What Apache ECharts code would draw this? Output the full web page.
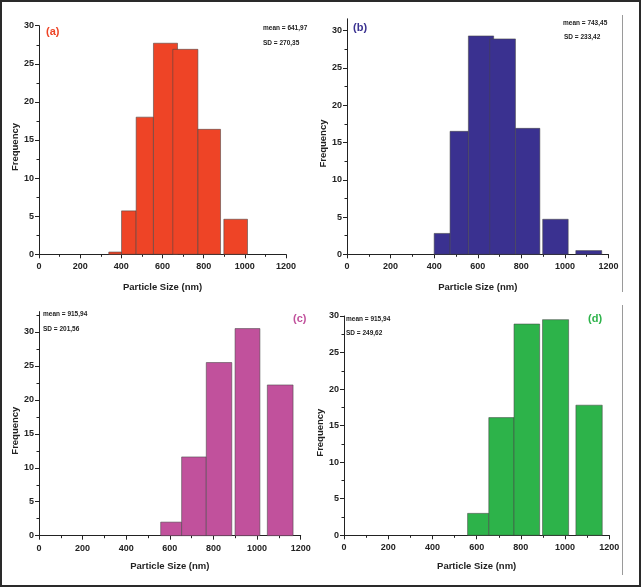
<!DOCTYPE html>
<html>
<head>
<meta charset="utf-8">
<script src="https://cdn.jsdelivr.net/npm/echarts@6/dist/echarts.min.js"></script>
<style>
  html, body { margin: 0; padding: 0; background: #fff; }
  #chart { width: 641px; height: 587px; }
</style>
</head>
<body>
<div id="chart"></div>
<script>
// bin edges (nm) and frequencies
const binStartA = [339, 401, 472, 556, 650, 772, 898];
const binEndA   = [401, 472, 556, 673, 772, 882, 1013];
const freqA     = [0.3, 5.7, 18.0, 27.7, 26.9, 16.4, 4.6];

const binStartB = [400, 473, 557, 655, 773, 898, 1050];
const binEndB   = [473, 557, 673, 773, 885, 1015, 1169];
const freqB     = [2.8, 16.5, 29.3, 28.9, 16.9, 4.7, 0.5];

const binStartC = [558, 654, 767, 899, 1047];
const binEndC   = [654, 767, 884, 1013, 1165];
const freqC     = [2.0, 11.6, 25.5, 30.5, 22.2];

const binStartD = [559, 655, 769, 898, 1049];
const binEndD   = [655, 769, 885, 1016, 1168];
const freqD     = [3.0, 16.1, 28.9, 29.5, 17.8];

const xTicks = [0, 200, 400, 600, 800, 1000, 1200];
const yTicks = [0, 5, 10, 15, 20, 25, 30];

const panelTags  = ['(a)', '(b)', '(c)', '(d)'];
const meanTexts  = ['mean = 641,97', 'mean = 743,45', 'mean = 915,94', 'mean = 915,94'];
const sdTexts    = ['SD = 270,35', 'SD = 233,42', 'SD = 201,56', 'SD = 249,62'];
const colors     = ['#EE4426', '#3A3190', '#C1519C', '#2DB34A'];

const FONT = "'Liberation Sans', Arial, sans-serif";

const panels = [
  { starts: binStartA, ends: binEndA, freq: freqA, max: 30,   grid: { left: 39,  top: 25.7, width: 247,   height: 228.6 } },
  { starts: binStartB, ends: binEndB, freq: freqB, max: 31.6, grid: { left: 347, top: 18.8, width: 261.5, height: 235.5 } },
  { starts: binStartC, ends: binEndC, freq: freqC, max: 33,   grid: { left: 39,  top: 311.6, width: 261.7, height: 224.1 } },
  { starts: binStartD, ends: binEndD, freq: freqD, max: 30,   grid: { left: 344, top: 316,  width: 265.3, height: 219.3 } }
];

let grid = [], xAxis = [], yAxis = [], series = [];

panels.forEach((p, i) => {
  grid.push(p.grid);
  xAxis.push({
    gridIndex: i,
    type: 'value',
    min: 0,
    max: 1200,
    interval: 200,
    name: 'Particle Size (nm)',
    nameLocation: 'middle',
    nameGap: i < 2 ? 28 : 26,
    nameTextStyle: { fontFamily: FONT, fontWeight: 'bold', fontSize: 9.5, color: '#222' },
    splitLine: { show: false },
    axisLine: { show: true, lineStyle: { color: '#222', width: 1 } },
    axisTick: { show: true, length: 4, customValues: xTicks, lineStyle: { color: '#222', width: 1 } },
    minorTick: { show: true, splitNumber: 2, length: 2.5, lineStyle: { color: '#222', width: 1 } },
    axisLabel: { customValues: xTicks, formatter: v => String(v), fontFamily: FONT, fontWeight: 'bold', fontSize: 9, color: '#222', margin: 8 }
  });
  yAxis.push({
    gridIndex: i,
    type: 'value',
    min: 0,
    max: p.max,
    interval: 5,
    name: 'Frequency',
    nameLocation: 'middle',
    nameGap: 19,
    nameTextStyle: { fontFamily: FONT, fontWeight: 'bold', fontSize: 9.5, color: '#222', padding: [0, 14, 0, 0] },
    splitLine: { show: false },
    axisLine: { show: true, lineStyle: { color: '#222', width: 1 } },
    axisTick: { show: true, length: 4, customValues: yTicks, lineStyle: { color: '#222', width: 1 } },
    minorTick: { show: true, splitNumber: 2, length: 2.5, lineStyle: { color: '#222', width: 1 } },
    axisLabel: { customValues: yTicks, formatter: v => String(v), fontFamily: FONT, fontWeight: 'bold', fontSize: 9, color: '#222', margin: 5 }
  });
  series.push({
    type: 'custom',
    xAxisIndex: i,
    yAxisIndex: i,
    data: p.freq.map((f, k) => [p.starts[k], p.ends[k], f]),
    encode: { x: [0, 1], y: 2 },
    renderItem: function (params, api) {
      const topLeft = api.coord([api.value(0), api.value(2)]);
      const bottomRight = api.coord([api.value(1), 0]);
      return {
        type: 'rect',
        shape: {
          x: topLeft[0],
          y: topLeft[1],
          width: bottomRight[0] - topLeft[0],
          height: bottomRight[1] - topLeft[1]
        },
        style: { fill: colors[i], stroke: 'rgba(70,70,70,0.55)', lineWidth: 1 }
      };
    }
  });
});

// annotation positions: tag, mean, sd
const tagPos  = [[46, 32], [353, 28], [293, 319], [588, 319]];
const meanPos = [[263, 29], [563, 24], [43, 315], [346, 320]];
const sdPos   = [[263, 44], [564, 38], [43, 330], [346, 334]];

let graphic = [
  { type: 'rect', shape: { x: 1, y: 1, width: 639, height: 585 }, style: { fill: 'none', stroke: '#2a2a2a', lineWidth: 2 }, z: 10 },
  { type: 'line', shape: { x1: 622.5, y1: 15, x2: 622.5, y2: 292 }, style: { stroke: '#9a9a9a', lineWidth: 1 } },
  { type: 'line', shape: { x1: 622.5, y1: 305, x2: 622.5, y2: 575 }, style: { stroke: '#9a9a9a', lineWidth: 1 } }
];

panelTags.forEach((t, i) => {
  graphic.push({
    type: 'text', left: tagPos[i][0], top: tagPos[i][1] - 6,
    style: { text: t, fill: colors[i], font: "bold 11px 'Liberation Sans', Arial, sans-serif" }
  });
  graphic.push({
    type: 'text', left: meanPos[i][0], top: meanPos[i][1] - 4,
    style: { text: meanTexts[i], fill: '#222', font: "bold 6.5px 'Liberation Sans', Arial, sans-serif" }
  });
  graphic.push({
    type: 'text', left: sdPos[i][0], top: sdPos[i][1] - 4,
    style: { text: sdTexts[i], fill: '#222', font: "bold 6.5px 'Liberation Sans', Arial, sans-serif" }
  });
});

let option = {
  backgroundColor: '#fff',
  animation: false,
  grid: grid,
  xAxis: xAxis,
  yAxis: yAxis,
  series: series,
  graphic: graphic
};

let myChart = echarts.init(document.getElementById('chart'));
myChart.setOption(option);
</script>
</body>
</html>
